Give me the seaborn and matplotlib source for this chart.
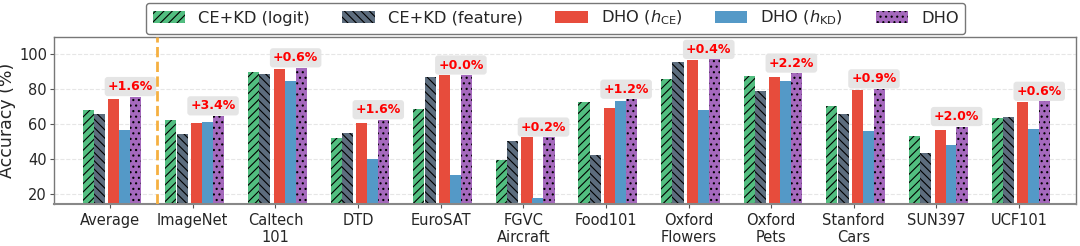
import matplotlib
matplotlib.use("Agg")
import matplotlib.pyplot as plt
import seaborn as sns
import numpy as np
from matplotlib.patches import Patch

categories = ["Average", "ImageNet", "Caltech\n101", "DTD", "EuroSAT", "FGVC\nAircraft",
              "Food101", "Oxford\nFlowers", "Oxford\nPets", "Stanford\nCars", "SUN397", "UCF101"]
ce_kd_logit = [68.0, 62.3, 89.8, 52.4, 68.9, 39.8, 72.5, 85.9, 87.6, 70.6, 53.3, 63.3]
ce_kd_feature = [66.0, 54.4, 88.7, 55.2, 87.2, 50.5, 42.4, 95.3, 78.9, 65.7, 43.5, 64.2]
dho_hce = [74.2, 60.5, 91.6, 61.0, 88.1, 52.5, 69.1, 96.6, 87.0, 79.3, 56.7, 72.5]
dho_hkd = [56.7, 61.4, 84.9, 40.1, 31.1, 17.9, 73.1, 68.0, 84.5, 56.3, 48.0, 57.4]
dho = [75.8, 64.8, 92.2, 62.6, 88.1, 52.7, 74.3, 97.0, 89.2, 80.2, 58.7, 73.1]
gains = ["+1.6%", "+3.4%", "+0.6%", "+1.6%", "+0.0%", "+0.2%",
         "+1.2%", "+0.4%", "+2.2%", "+0.9%", "+2.0%", "+0.6%"]
series_names = ["CE+KD (logit)", "CE+KD (feature)", r"DHO ($h_{\mathrm{CE}}$)",
                r"DHO ($h_{\mathrm{KD}}$)", "DHO"]

sns.set_style("whitegrid")
plt.rcParams["font.family"] = ["DejaVu Sans"]
plt.rcParams["hatch.linewidth"] = 0.8

colors = ["#52BE80", "#5D6D7E", "#E74C3C", "#5499C7", "#A569BD"]
hatches = ["////", "\\\\\\\\", None, None, "..."]
offsets = [-0.265, -0.128, 0.045, 0.178, 0.311]
width = 0.135

fig = plt.figure(figsize=(10.8, 2.46), dpi=100)
ax = fig.add_axes([54 / 1080, 42 / 246, 1022 / 1080, 166.5 / 246])

x = np.arange(len(categories))
all_series = [ce_kd_logit, ce_kd_feature, dho_hce, dho_hkd, dho]
for vals, col, hat, off in zip(all_series, colors, hatches, offsets):
    kw = dict(color=col, edgecolor="black", linewidth=0)
    if hat:
        kw["hatch"] = hat
    sns.barplot(x=x + off, y=vals, native_scale=True, width=width, saturation=1,
                errorbar=None, ax=ax, **kw)

for xi, v, g in zip(x, dho, gains):
    ax.text(xi + 0.245, v + 2.0, g, ha="center", va="bottom", color="red",
            fontsize=9, fontweight="bold",
            bbox=dict(boxstyle="round,pad=0.25", facecolor="#e3e3e3", edgecolor="none", alpha=0.9))

ax.axvline(0.57, color="#F5B041", linestyle="--", linewidth=2, zorder=3)

ax.set_xlim(-0.68, 11.69)
ax.set_ylim(14.5, 109.5)
ax.set_xticks(x)
ax.set_xticklabels(categories, fontsize=10.5)
ax.set_yticks([20, 40, 60, 80, 100])
ax.tick_params(axis="y", labelsize=10.5, length=3, color="#555555", left=True, pad=2)
ax.tick_params(axis="x", length=3, color="#555555", bottom=True)
ax.set_ylabel("Accuracy (%)", fontsize=12.5, labelpad=2)
ax.set_xlabel("")
ax.xaxis.grid(False)
ax.yaxis.grid(True, linestyle="--", color="#e6e6e6", linewidth=0.8)
ax.set_axisbelow(True)
for name, sp in ax.spines.items():
    sp.set_color("#777777")
    sp.set_linewidth(1.0)
ax.spines["bottom"].set_color("#888888")
ax.spines["bottom"].set_linewidth(1.5)

handles = []
for name, col, hat in zip(series_names, colors, hatches):
    handles.append(Patch(facecolor=col, edgecolor="black", linewidth=0, hatch=hat, label=name))
leg = ax.legend(handles=handles, loc="upper center", bbox_to_anchor=(0.491, 1.21),
                ncol=5, fontsize=11.7, frameon=True, fancybox=True, edgecolor="#555555",
                borderaxespad=0, columnspacing=2.0, handlelength=2.0)
leg.get_frame().set_linewidth(1.0)

fig.savefig("out.png", dpi=100)
